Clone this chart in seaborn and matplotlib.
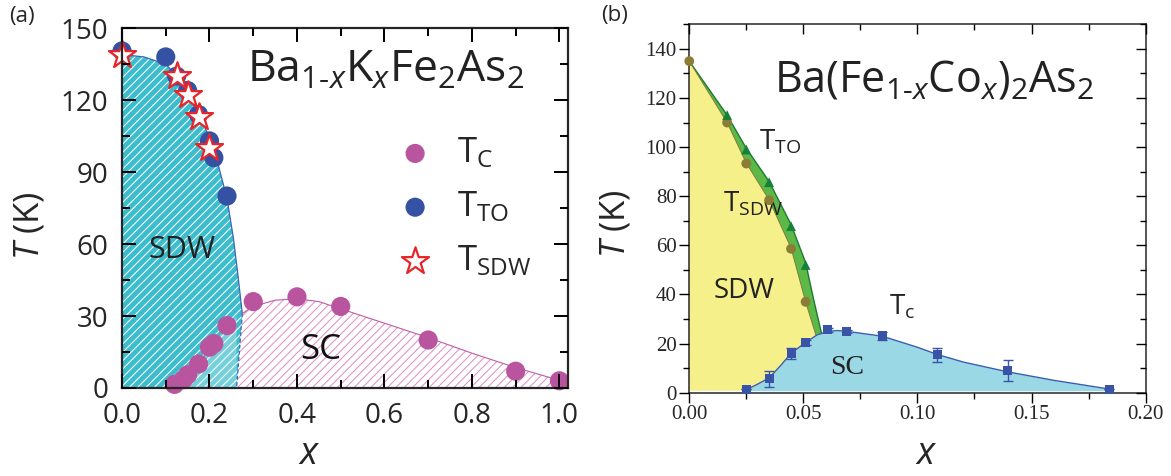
import numpy as np
import matplotlib
matplotlib.use('Agg')
import matplotlib.pyplot as plt
from matplotlib.ticker import MultipleLocator
import seaborn as sns

# ---- (a) Ba1-xKxFe2As2 ----
k_tc_x = [0.12, 0.14, 0.15, 0.175, 0.2, 0.21, 0.24, 0.3, 0.4, 0.5, 0.7, 0.9, 1.0]
k_tc_T = [1.5, 3.5, 5.5, 10, 17, 18.5, 26, 36, 38, 34, 20, 7, 3]
k_tto_x = [0, 0.1, 0.125, 0.15, 0.175, 0.2, 0.21, 0.24]
k_tto_T = [140.5, 138, 130, 124, 114, 103, 96, 80]
k_tsdw_x = [0, 0.125, 0.15, 0.175, 0.2]
k_tsdw_T = [139, 130, 122, 113, 100]

# phase boundaries
k_sdw_x = [0, 0.05, 0.1, 0.125, 0.15, 0.175, 0.2, 0.22, 0.24, 0.255, 0.265, 0.275]
k_sdw_T = [139, 138, 135, 130, 123, 115, 104, 93, 79, 62, 47, 31]
k_foot_x, k_foot_T = 0.262, 0
k_dome_x = [0.275, 0.3, 0.35, 0.4, 0.45, 0.5, 0.6, 0.7, 0.8, 0.9, 1.0, 1.02]
k_dome_T = [31, 34, 36.6, 37.2, 36, 33, 27, 21, 14.5, 8.5, 3.2, 2.5]
k_coex_x = [0.115, 0.14, 0.16, 0.18, 0.2, 0.22, 0.24, 0.262, 0.262]
k_coex_T = [0, 3, 6.5, 11, 16, 21, 26, 30, 0]

# ---- (b) Ba(Fe1-xCox)2As2 ----
co_tto_x = [0.0166, 0.025, 0.035, 0.0446, 0.051]
co_tto_T = [113, 99, 85.7, 67.8, 52]
co_tsdw_x = [0, 0.0166, 0.025, 0.035, 0.0446, 0.051]
co_tsdw_T = [135, 110, 93.3, 78.4, 58.6, 37]
co_tc_x = [0.025, 0.035, 0.0446, 0.051, 0.0606, 0.069, 0.0846, 0.1086, 0.1395, 0.184]
co_tc_T = [1.4, 5.6, 15.8, 20.4, 25.6, 24.9, 23.1, 15.4, 9, 1.5]
co_tc_err = [0, 3.1, 2.2, 1.0, 0.8, 0.6, 1.8, 3.0, 4.4, 0]

co_tto_line_x = [0, 0.0166, 0.025, 0.035, 0.0446, 0.051, 0.0545, 0.058]
co_tto_line_T = [135, 113, 99.5, 86, 68.5, 53, 38, 24]
co_tsdw_line_x = [0, 0.0166, 0.025, 0.035, 0.0446, 0.051, 0.0555]
co_tsdw_line_T = [135, 110, 93.5, 78.5, 59, 37, 23.5]
co_tc_line_x = [0.025, 0.03, 0.035, 0.04, 0.0446, 0.051, 0.056, 0.0606, 0.065, 0.069,
                0.0846, 0.1, 0.1086, 0.12, 0.1395, 0.16, 0.184]
co_tc_line_T = [1.2, 3.5, 6, 11, 16, 20.5, 23.5, 25, 25.3, 25, 23, 18.5, 15.6, 12.5, 8.5, 5, 1.5]
floor_T = 0.8

HY = '\u2010'
title_k = 'Ba$_{\\mathregular{1' + HY + '}x}$K$_x$Fe$_{\\mathregular{2}}$As$_{\\mathregular{2}}$'
title_co = 'Ba(Fe$_{\\mathregular{1' + HY + '}x}$Co$_x$)$_{\\mathregular{2}}$As$_{\\mathregular{2}}$'

sns.set_style('ticks')
plt.rcParams['font.family'] = ['Open Sans', 'DejaVu Sans']
plt.rcParams['mathtext.fontset'] = 'custom'
plt.rcParams['mathtext.rm'] = 'Open Sans'
plt.rcParams['mathtext.it'] = 'Open Sans:italic'
plt.rcParams['hatch.linewidth'] = 0.75
plt.rcParams['axes.axisbelow'] = False

fig = plt.figure(figsize=(11.71, 4.76), dpi=100)
ax1 = fig.add_axes([0.1042, 0.1849, 0.381, 0.756])
ax2 = fig.add_axes([0.5886, 0.175, 0.3897, 0.774])

# ---------- panel (a) ----------
cyan = '#3cbdcd'
pink_line = '#c45aa5'
ax1.fill(np.r_[k_sdw_x, k_foot_x, 0], np.r_[k_sdw_T, k_foot_T, 0],
         facecolor=cyan, edgecolor='white', hatch='////', lw=0, zorder=1)
ax1.fill(np.r_[k_foot_x, k_dome_x, k_dome_x[-1]], np.r_[k_foot_T, k_dome_T, 0],
         facecolor='white', edgecolor='#dc92c6', hatch='////', lw=0, zorder=1)
ax1.fill(k_coex_x, k_coex_T, facecolor='white', alpha=0.3, lw=0, zorder=1.5)
ax1.plot(k_sdw_x, k_sdw_T, color='#3b66b3', lw=0.9, zorder=2)
ax1.plot([k_sdw_x[-1], k_foot_x], [k_sdw_T[-1], k_foot_T], color='#3b66b3', lw=0.9,
         ls=(0, (3, 2)), zorder=2)
ax1.plot(k_dome_x, k_dome_T, color=pink_line, lw=0.8, zorder=2)

sns.scatterplot(x=k_tc_x, y=k_tc_T, ax=ax1, color='#b9549f', s=190, edgecolor='none',
                label=r'T$_{\mathregular{C}}$', zorder=3, clip_on=False)
sns.scatterplot(x=k_tto_x, y=k_tto_T, ax=ax1, color='#3451a4', s=190, edgecolor='none',
                label=r'T$_{\mathregular{TO}}$', zorder=3, clip_on=False)
sns.scatterplot(x=k_tsdw_x, y=k_tsdw_T, ax=ax1, marker='*', s=420, color='white',
                edgecolor='#e8262a', linewidth=1.6, label=r'T$_{\mathregular{SDW}}$',
                zorder=4, clip_on=False)

ax1.set_xlim(0, 1.02)
ax1.set_ylim(0, 150)
ax1.xaxis.set_major_locator(MultipleLocator(0.2))
ax1.xaxis.set_minor_locator(MultipleLocator(0.1))
ax1.yaxis.set_major_locator(MultipleLocator(30))
ax1.yaxis.set_minor_locator(MultipleLocator(15))
ax1.set_xticks(np.arange(0, 1.01, 0.2))
ax1.set_xticklabels(['0.0', '0.2', '0.4', '0.6', '0.8', '1.0'])
ax1.tick_params(which='both', direction='in', top=True, right=True, bottom=True, left=True,
                width=1.3, color='black', labelsize=20, pad=10)
ax1.tick_params(which='major', length=10)
ax1.tick_params(which='minor', length=5.5)
for sp in ax1.spines.values():
    sp.set_linewidth(1.6)
    sp.set_zorder(5)
ax1.set_xlabel(r'$x$', fontsize=27)
ax1.set_ylabel(r'$T$ (K)', fontsize=25)
ax1.xaxis.set_label_coords(0.42, -0.13)
ax1.yaxis.set_label_coords(-0.17, 0.45)

ax1.legend(loc='center left', bbox_to_anchor=(0.618, 0.503), frameon=False,
           fontsize=25, handlelength=1.0, handletextpad=0.7, labelspacing=0.55,
           borderaxespad=0, borderpad=0)

ax1.text(0.286, 127.5, title_k, fontsize=32, ha='left', va='baseline', color='#222222')
ax1.text(0.136, 57.6, 'SDW', fontsize=22, ha='center', va='center', color='#222222')
ax1.text(0.455, 16, 'SC', fontsize=25, ha='center', va='center', color='#111111')
fig.text(0.019, 0.965, '(a)', fontsize=16, ha='center', va='center')

# ---------- panel (b) ----------
ax2.fill(np.r_[co_tsdw_line_x, co_tsdw_line_x[-1], 0],
         np.r_[co_tsdw_line_T, floor_T, floor_T], facecolor='#f6f08a', lw=0, zorder=1)
ax2.fill(np.r_[co_tto_line_x, co_tsdw_line_x[::-1]],
         np.r_[co_tto_line_T, co_tsdw_line_T[::-1]], facecolor='#5db947', lw=0, zorder=1)
ax2.fill_between(co_tc_line_x, floor_T, co_tc_line_T, facecolor='#9ad8e6', lw=0, zorder=1.2)
sns.lineplot(x=co_tto_line_x, y=co_tto_line_T, ax=ax2, color='#1d7a35', lw=1.0, sort=False, zorder=2)
sns.lineplot(x=co_tsdw_line_x, y=co_tsdw_line_T, ax=ax2, color='#7d7a3a', lw=0.7, sort=False, zorder=2)
sns.lineplot(x=co_tc_line_x, y=co_tc_line_T, ax=ax2, color='#3a5db0', lw=1.0, sort=False, zorder=2)

ax2.errorbar(co_tc_x, co_tc_T, yerr=co_tc_err, fmt='none', ecolor='#3a55a8', elinewidth=1,
             capsize=3.5, zorder=3)
sns.scatterplot(x=co_tc_x, y=co_tc_T, ax=ax2, marker='s', color='#3953a6', s=42,
                edgecolor='none', zorder=4, clip_on=False)
sns.scatterplot(x=co_tsdw_x, y=co_tsdw_T, ax=ax2, marker='o', color='#8b7d36', s=50,
                edgecolor='none', zorder=4, clip_on=False)
sns.scatterplot(x=co_tto_x, y=co_tto_T, ax=ax2, marker='^', color='#17803a', s=50,
                edgecolor='none', zorder=4, clip_on=False)

ax2.set_xlim(0, 0.2)
ax2.set_ylim(0, 150)
ax2.xaxis.set_major_locator(MultipleLocator(0.05))
ax2.xaxis.set_minor_locator(MultipleLocator(0.025))
ax2.yaxis.set_major_locator(MultipleLocator(20))
ax2.yaxis.set_minor_locator(MultipleLocator(10))
ax2.set_xticks(np.arange(0, 0.201, 0.05))
ax2.set_xticklabels(['0.00', '0.05', '0.10', '0.15', '0.20'])
ax2.tick_params(which='both', direction='out', width=1.0, color='black', labelsize=15, pad=2)
ax2.tick_params(which='major', length=7)
ax2.tick_params(which='minor', length=4.5)
for lab in ax2.get_xticklabels() + ax2.get_yticklabels():
    lab.set_family(['Liberation Serif', 'DejaVu Serif'])
for sp in ax2.spines.values():
    sp.set_linewidth(1.1)

ax2.set_xlabel(r'$x$', fontsize=27)
ax2.set_ylabel(r'$T$ (K)', fontsize=25)
ax2.xaxis.set_label_coords(0.52, -0.115)
ax2.yaxis.set_label_coords(-0.125, 0.46)

ax2.text(0.0372, 122.7, title_co, fontsize=31, ha='left', va='baseline', color='#222222')
ax2.text(0.0304, 99, r'T$_{\mathregular{TO}}$', fontsize=20, ha='left', va='baseline', color='#222222')
ax2.text(0.015, 73.8, r'T$_{\mathregular{SDW}}$', fontsize=20, ha='left', va='baseline', color='#222222')
ax2.text(0.024, 41.6, 'SDW', fontsize=20, ha='center', va='center', color='#222222')
ax2.text(0.0877, 31.7, r'T$_{\mathregular{c}}$', fontsize=20, ha='left', va='baseline', color='#222222')
ax2.text(0.0693, 10.3, 'SC', fontsize=20, ha='center', va='center', color='#222222',
         family=['Liberation Serif', 'DejaVu Serif'])
fig.text(0.525, 0.968, '(b)', fontsize=16, ha='center', va='center')

# inward tick marks drawn on bare overlay axes sharing the data axes
overlays = [(ax1, dict(top=True, right=True, bottom=True, left=True), 1.3, 10, 5.5),
            (ax2, dict(top=True, right=True, bottom=False, left=False), 1.0, 7, 4.5)]
for base, sides, tw, tl_major, tl_minor in overlays:
    ov = fig.add_axes(base.get_position().bounds, sharex=base, sharey=base)
    ov.patch.set_visible(False)
    for sp in ov.spines.values():
        sp.set_visible(False)
    ov.tick_params(which='both', direction='in', width=tw, color='black',
                   labelbottom=False, labelleft=False, labeltop=False, labelright=False, **sides)
    ov.tick_params(which='major', length=tl_major)
    ov.tick_params(which='minor', length=tl_minor)
    ov.set_xlabel('')
    ov.set_ylabel('')
    ov.set_zorder(10)

fig.savefig('out.png', dpi=100)
